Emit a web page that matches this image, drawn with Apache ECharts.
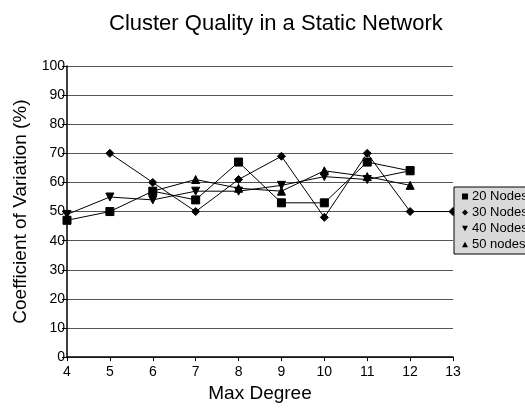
<!DOCTYPE html>
<html>
<head>
<meta charset="utf-8">
<script src="https://cdn.jsdelivr.net/npm/echarts@6/dist/echarts.min.js"></script>
<style>
  html, body { margin: 0; padding: 0; background: #fff; }
  #chart { width: 525px; height: 408px; }
</style>
</head>
<body>
<div id="chart"></div>
<script>
// Max degree values along the x axis
const degrees = ['4', '5', '6', '7', '8', '9', '10', '11', '12', '13'];

// Coefficient of variation (%) per network size
const nodes20 = [47, 50, 57, 54, 67, 53, 53, 67, 64, null];
const nodes30 = [null, 70, 60, 50, 61, 69, 48, 70, 50, 50];
const nodes40 = [49, 55, 54, 57, 57, 59, 62, 61, 64, null];
const nodes50 = [null, null, 57, 61, 58, 57, 64, 62, 59, null];

const seriesNames = ['20 Nodes', '30 Nodes', '40 Nodes', '50 nodes'];
const downTriangle = 'path://M0,0L10,0L5,9Z';
const upTriangle = 'path://M5,0L10,9L0,9Z';
const symbols = ['rect', 'diamond', downTriangle, upTriangle];
const symbolSizes = [8, 8, 8, 8];
const seriesData = [nodes20, nodes30, nodes40, nodes50];

const FONT = '"Liberation Sans", Arial, sans-serif';

const chart = echarts.init(document.getElementById('chart'), null, { renderer: 'canvas' });

chart.setOption({
  animation: false,
  backgroundColor: '#fff',
  title: {
    text: 'Cluster Quality in a Static Network',
    left: 104,
    top: 8,
    textStyle: { fontFamily: FONT, fontSize: 22, fontWeight: 'normal', color: '#000' }
  },
  legend: {
    orient: 'vertical',
    left: 454,
    top: 187,
    backgroundColor: '#d9d9d9',
    borderColor: '#000',
    borderWidth: 1,
    borderRadius: 0,
    padding: [3, 30, 3, 8],
    itemGap: 3,
    itemWidth: 6,
    itemHeight: 6,
    data: seriesNames.map((n, i) => ({ name: n, icon: symbols[i] })),
    textStyle: { fontFamily: FONT, fontSize: 13, color: '#000', padding: [0, 0, 0, -1] }
  },
  grid: { left: 67, right: 72, top: 66, bottom: 40 },
  xAxis: {
    type: 'category',
    data: degrees,
    boundaryGap: false,
    name: 'Max Degree',
    nameLocation: 'middle',
    nameGap: 22,
    nameTextStyle: { fontFamily: FONT, fontSize: 19, color: '#000' },
    axisLine: { lineStyle: { color: '#000', width: 1.5 } },
    axisTick: { show: true, alignWithLabel: true, length: 4, lineStyle: { color: '#000' } },
    axisLabel: { fontFamily: FONT, fontSize: 14, color: '#000', margin: 8 },
    splitLine: { show: false }
  },
  yAxis: {
    type: 'value',
    min: 0,
    max: 100,
    interval: 10,
    name: 'Coefficient of Variation (%)',
    nameLocation: 'middle',
    nameRotate: 90,
    nameGap: 37,
    nameTextStyle: { fontFamily: FONT, fontSize: 19, color: '#000' },
    axisLine: { show: true, lineStyle: { color: '#000', width: 1.5 } },
    axisTick: { show: true, length: 5, lineStyle: { color: '#000' } },
    axisLabel: { fontFamily: FONT, fontSize: 14, color: '#000', margin: 2 },
    splitLine: { show: true, lineStyle: { color: '#555', width: 1 } }
  },
  series: seriesData.map((d, i) => ({
    name: seriesNames[i],
    type: 'line',
    data: d,
    symbol: symbols[i],
    symbolSize: symbolSizes[i],
    showAllSymbol: true,
    connectNulls: false,
    lineStyle: { color: '#000', width: 1 },
    itemStyle: { color: '#000', borderColor: '#000' },
    emphasis: { disabled: true }
  }))
});
</script>
</body>
</html>
